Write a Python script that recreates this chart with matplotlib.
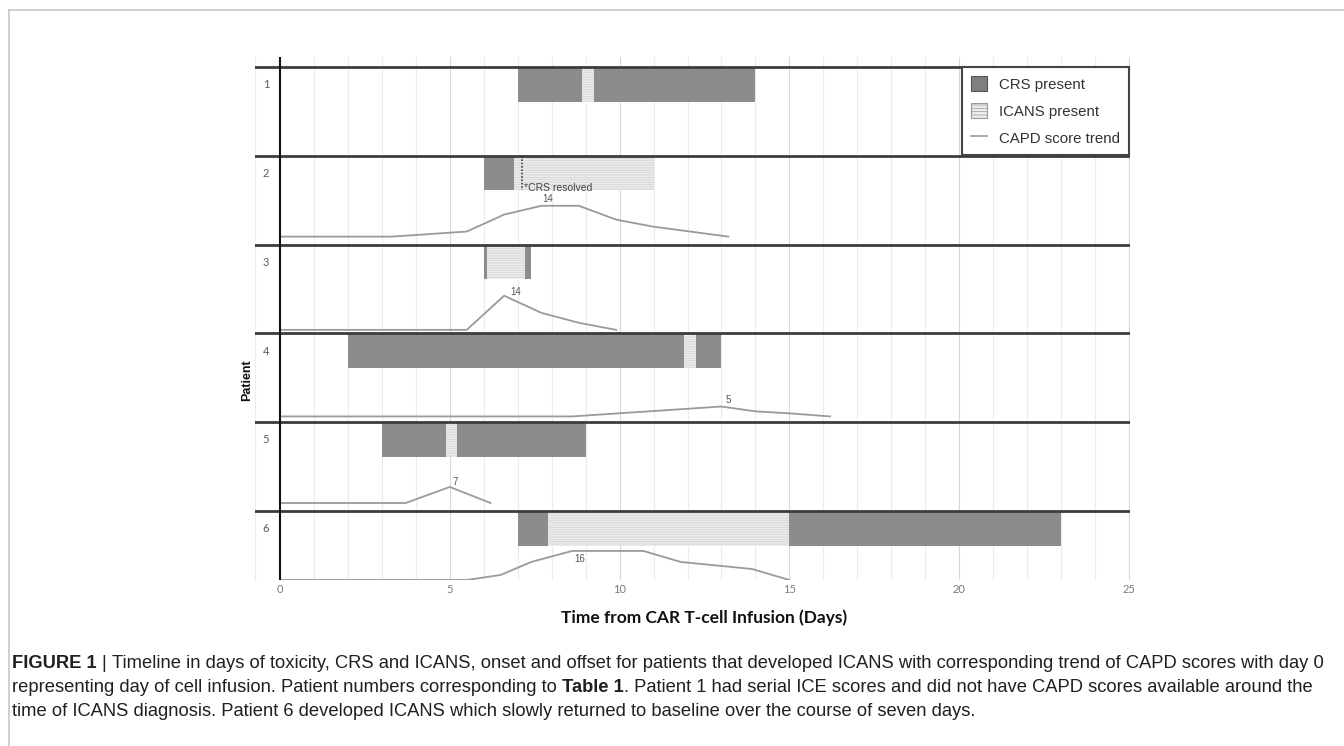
import matplotlib
matplotlib.use("Agg")
import matplotlib.pyplot as plt
from matplotlib.patches import Patch
from matplotlib.lines import Line2D
from matplotlib import font_manager

# ---- data ---------------------------------------------------------------
PATIENTS = [1, 2, 3, 4, 5, 6]
CRS_SPANS = [
    [(7.0, 8.9), (9.25, 14.0)],
    [(6.0, 6.9)],
    [(6.0, 6.1), (7.2, 7.4)],
    [(2.0, 11.9), (12.25, 13.0)],
    [(3.0, 4.9), (5.2, 9.0)],
    [(7.0, 7.9), (15.0, 23.0)],
]
ICANS_SPANS = [
    [(8.9, 9.25)],
    [(6.9, 11.0)],
    [(6.1, 7.2)],
    [(11.9, 12.25)],
    [(4.9, 5.2)],
    [(7.9, 15.0)],
]
# CAPD trend (patient 1 had ICE scores only)
CAPD_DAYS = [
    [],
    [0, 3.3, 5.5, 6.6, 7.7, 8.8, 9.9, 11.0, 13.2],
    [0, 5.0, 5.5, 6.6, 7.7, 8.8, 9.9],
    [0, 8.6, 13.0, 14.0, 15.0, 16.2],
    [0, 3.7, 5.0, 6.2],
    [0, 5.5, 6.5, 7.4, 8.6, 10.7, 11.8, 13.9, 15.0],
]
CAPD_TREND = [
    [],
    [0, 0, 2.3, 10, 14, 14, 7.7, 4.5, 0],
    [0, 0, 0, 15.5, 7.7, 3.2, 0],
    [0, 0, 4.5, 2.3, 1.4, 0],
    [0, 0, 7.3, 0],
    [0, 0, 2.3, 8.2, 13.2, 13.2, 8.2, 5.0, 0],
]
CAPD_PEAK = [None, 14, 14, 5, 7, 16]
CRS_RESOLVED_DAY = 7.13
XTICKS = [0, 5, 10, 15, 20, 25]

CAPTION = [
    [("FIGURE 1", "bold", ""), ("|", "normal", " "),
     ("Timeline in days of toxicity, CRS and ICANS, onset and offset for patients "
      "that developed ICANS with corresponding trend of CAPD scores with day 0", "normal", " ")],
    [("representing day of cell infusion. Patient numbers corresponding to", "normal", ""),
     ("Table 1", "bold", " "),
     (". Patient 1 had serial ICE scores and did not have CAPD scores available around the",
      "normal", "")],
    [("time of ICANS diagnosis. Patient 6 developed ICANS which slowly returned to "
      "baseline over the course of seven days.", "normal", "")],
]

# ---- layout / style ------------------------------------------------------
W, H = 1344, 746
BAR_H = 0.39
BASE_OFF = [None, 0.91, 0.96, 0.935, 0.91, 0.777]
SCORE_SCALE = 0.0248
LABEL_OFF = [None, (4.7, 5), (8, 3), (4.7, 5), (3.6, 3.6), (5.8, -5.8)]
CRS_COL = "#8c8c8c"
ICANS_COL = "#ebebeb"
CAPD_COL = "#9a9a9a"
ROW_COL = "#3c3c3c"

plt.rcParams["hatch.linewidth"] = 0.5
fig = plt.figure(figsize=(W / 100, H / 100), dpi=100)
ax = fig.add_axes([255 / W, (H - 580) / H, 875 / W, 523 / H])
ax.set_xlim(-0.736, 25.03)
ax.set_ylim(5.777, -0.1126)

for d in range(1, 26):
    ax.axvline(d, color="#d8d8d8" if d % 5 == 0 else "#ececec", lw=0.8, zorder=0)

for i, p in enumerate(PATIENTS):
    row = i
    for s, e in CRS_SPANS[i]:
        ax.barh(row, e - s, left=s, height=BAR_H, align="edge",
                color=CRS_COL, edgecolor="none", zorder=2)
    for s, e in ICANS_SPANS[i]:
        ax.barh(row, e - s, left=s, height=BAR_H, align="edge",
                color=ICANS_COL, edgecolor="#d2d2d2", lw=0, hatch="-------", zorder=2)
    if CAPD_DAYS[i]:
        base = row + BASE_OFF[i]
        ys = [base - v * SCORE_SCALE for v in CAPD_TREND[i]]
        ax.plot(CAPD_DAYS[i], ys, color=CAPD_COL, lw=1.3, zorder=3)
        k = CAPD_TREND[i].index(max(CAPD_TREND[i]))
        ax.annotate(str(CAPD_PEAK[i]), (CAPD_DAYS[i][k], ys[k]),
                    xytext=LABEL_OFF[i], textcoords="offset points",
                    ha="center", va="center", fontsize=7, color="#555555",
                    family="Liberation Sans")
    ax.axhline(row, color=ROW_COL, lw=2.0, zorder=4)
    ax.text(-0.41, row + 0.2, str(p), ha="center", va="center",
            fontsize=8, color="#5a5a5a", family="Lato")

# CRS resolved marker for patient 2
ax.plot([CRS_RESOLVED_DAY, CRS_RESOLVED_DAY], [1, 1 + BAR_H], color="#222222",
        lw=1.1, ls=(0, (1, 1.2)), zorder=4)
ax.text(CRS_RESOLVED_DAY + 0.05, 1 + 0.36, "*CRS resolved", ha="left", va="center",
        fontsize=7.5, color="#444444", family="Liberation Sans", zorder=5)

ax.axvline(0, color="#111111", lw=1.5, zorder=4)

ax.set_xticks(XTICKS)
ax.set_xticklabels([str(t) for t in XTICKS], fontsize=8, color="#7a7a7a", family="Lato")
ax.tick_params(axis="x", length=0, pad=3)
ax.set_yticks([])
for side in ["top", "right", "bottom"]:
    ax.spines[side].set_visible(False)
ax.spines["left"].set_color("#ececec")

handles = [
    Patch(facecolor="#7f7f7f", edgecolor="#555555", lw=0.8),
    Patch(facecolor="#ececec", edgecolor="#9a9a9a", lw=0.8, hatch="-----"),
    Line2D([], [], color=CAPD_COL, lw=1.2),
]
leg = ax.legend(handles, ["CRS present", "ICANS present", "CAPD score trend"],
                loc="upper right", bbox_to_anchor=(25.0, 0.0), bbox_transform=ax.transData,
                borderaxespad=0, fancybox=False, framealpha=1,
                prop={"family": "Liberation Sans", "size": 10.8},
                handlelength=1.1, handleheight=1.1, handletextpad=0.75,
                labelspacing=0.78, borderpad=0.62)
leg.get_frame().set_edgecolor("#444444")
leg.get_frame().set_linewidth(1.5)
leg.set_zorder(6)
for t in leg.get_texts():
    t.set_color("#333333")

fig.text(247 / W, 1 - 380 / H, "Patient", rotation=90, ha="center", va="center",
         fontsize=9, weight="bold", family="Liberation Sans", color="#111111")
fig.text(704 / W, 1 - 618 / H, "Time from CAR T-cell Infusion (Days)", ha="center",
         va="center", fontsize=12.5, weight="bold", family="Lato", color="#111111")

# outer frame of the figure panel
fig.add_artist(Line2D([9 / W, 1], [1 - 10 / H, 1 - 10 / H], transform=fig.transFigure,
                      color="#c8c8c8", lw=1.2))
fig.add_artist(Line2D([9 / W, 9 / W], [0, 1 - 10 / H], transform=fig.transFigure,
                      color="#c8c8c8", lw=1.2))

# caption, mixed bold / regular runs
try:
    font_manager.findfont("Liberation Sans Narrow", fallback_to_default=False)
    cap_family = "Liberation Sans Narrow"
except Exception:
    cap_family = "Liberation Sans"
renderer = fig.canvas.get_renderer()


def width_of(s, size, weight):
    t = fig.text(0, 0, s, fontsize=size, weight=weight, family=cap_family)
    w = t.get_window_extent(renderer).width
    t.remove()
    return w


def draw_caption_line(segments, x0, yc, size):
    sp = width_of("x x", size, "normal") - width_of("xx", size, "normal")
    x = x0
    for s, weight, pre in segments:
        if pre:
            x += sp
        t = fig.text(x / W, 1 - yc / H, s, fontsize=size, weight=weight,
                     family=cap_family, ha="left", va="center", color="#231f20")
        x += t.get_window_extent(renderer).width
    return x - x0


size = 11.0
probe = sum(width_of(s, size, w) for s, w, _ in CAPTION[0]) + 2 * (
    width_of("x x", size, "normal") - width_of("xx", size, "normal"))
size = size * 1304 / probe
for line, yc in zip(CAPTION, [664, 688, 711]):
    draw_caption_line(line, 12, yc, size)

fig.savefig("out.png", dpi=100)
